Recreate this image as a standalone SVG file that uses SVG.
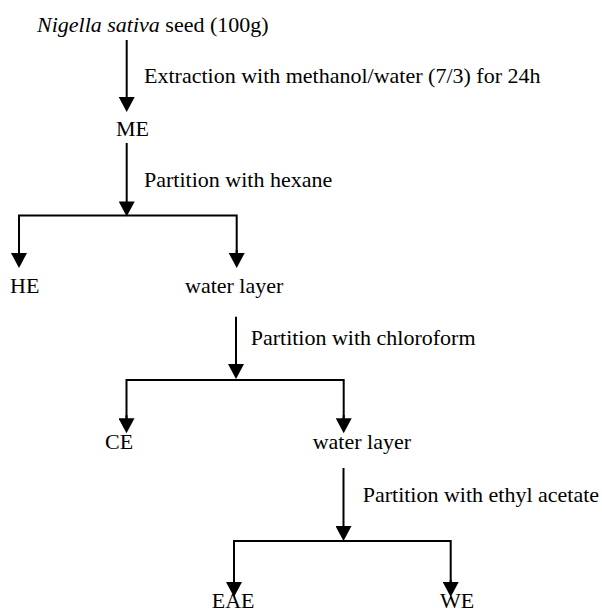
<svg xmlns="http://www.w3.org/2000/svg" width="602" height="609" viewBox="0 0 602 609">
<style>
text{font-family:"Liberation Serif","Times New Roman",serif;font-size:22px;fill:#000}
.c line,.c polyline{stroke:#000;stroke-width:2;fill:none}
</style>
<defs>
<marker id="ah" markerUnits="userSpaceOnUse" markerWidth="16" markerHeight="16" viewBox="0 0 15 16" refX="7" refY="8" orient="auto">
<path d="M0,0 L15,8 L0,16 z" fill="#000"/>
</marker>
</defs>
<rect width="602" height="609" fill="#fff"/>
<g class="c" id="connectors">
<line x1="126.7" y1="40" x2="126.7" y2="104" marker-end="url(#ah)"/>
<line x1="126.7" y1="143" x2="126.7" y2="208.5" marker-end="url(#ah)"/>
<polyline points="19,260 19,215.5 236.7,215.5 236.7,260"/>
<line x1="19" y1="250" x2="19" y2="260" marker-end="url(#ah)"/>
<line x1="236.7" y1="250" x2="236.7" y2="260" marker-end="url(#ah)"/>
<line x1="236" y1="316.7" x2="236" y2="371" marker-end="url(#ah)"/>
<polyline points="126.5,425 126.5,380 343.7,380 343.7,425"/>
<line x1="126.5" y1="415" x2="126.5" y2="425.3" marker-end="url(#ah)"/>
<line x1="343.7" y1="415" x2="343.7" y2="425.3" marker-end="url(#ah)"/>
<line x1="343.5" y1="468" x2="343.5" y2="533" marker-end="url(#ah)"/>
<polyline points="234,589 234,541 450.7,541 450.7,589"/>
<line x1="234" y1="580" x2="234" y2="589" marker-end="url(#ah)"/>
<line x1="450.7" y1="580" x2="450.7" y2="589" marker-end="url(#ah)"/>
</g>
<g id="seed"><text x="37" y="32"><tspan font-style="italic">Nigella sativa</tspan> seed (100g)</text></g>
<g id="lbl-extraction"><text x="144" y="83">Extraction with methanol/water (7/3) for 24h</text></g>
<g id="ME"><text x="116" y="136">ME</text></g>
<g id="lbl-hexane"><text x="144" y="187">Partition with hexane</text></g>
<g id="HE"><text x="10" y="292.7">HE</text></g>
<g id="water1"><text x="185" y="292.7">water layer</text></g>
<g id="lbl-chloroform"><text x="250.7" y="345">Partition with chloroform</text></g>
<g id="CE"><text x="105" y="449">CE</text></g>
<g id="water2"><text x="312.7" y="449">water layer</text></g>
<g id="lbl-ethyl"><text x="362.7" y="502">Partition with ethyl acetate</text></g>
<g id="EAE"><text x="211.7" y="608">EAE</text></g>
<g id="WE"><text x="440" y="608">WE</text></g>
</svg>
